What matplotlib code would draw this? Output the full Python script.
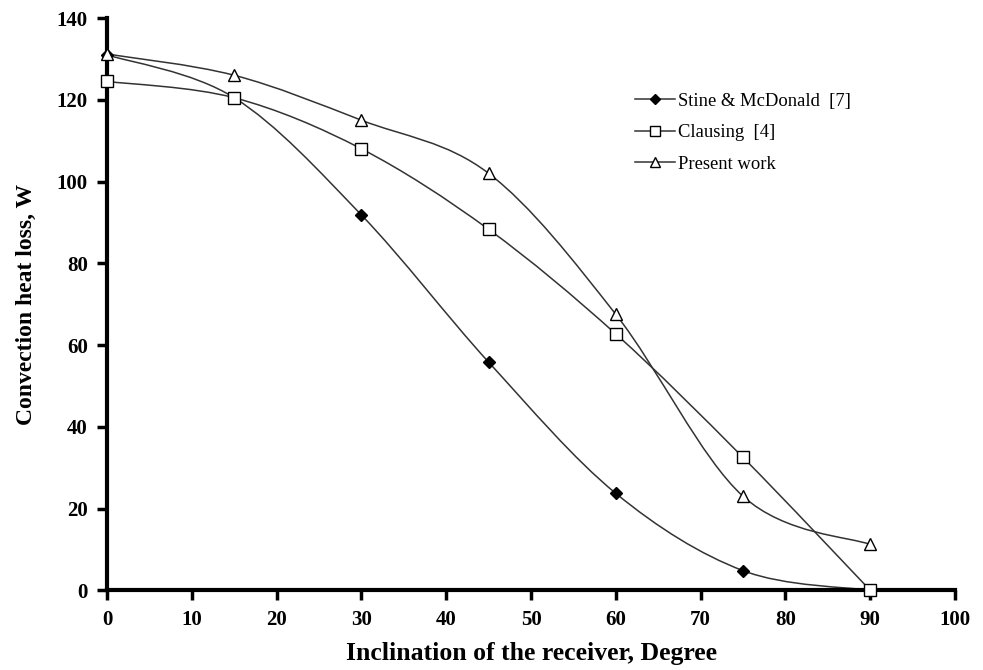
import numpy as np
import matplotlib.pyplot as plt
from matplotlib.path import Path
from matplotlib.patches import PathPatch

plt.rcParams['font.family'] = ['Liberation Serif', 'DejaVu Serif']

# Inclination angles (degrees)
angles = [0, 15, 30, 45, 60, 75, 90]

# Convection heat loss (W)
stine = [131.0, 120.5, 91.8, 55.8, 23.7, 4.8, 0.0]
clausing = [124.5, 120.5, 108.0, 88.3, 62.7, 32.5, 0.0]
present = [131.2, 126.0, 115.0, 102.0, 67.5, 23.0, 11.2]


def smoothPath(xs, ys):
    """Builds an Excel-style smoothed Bezier path through the points."""
    pts = np.column_stack([xs, ys]).astype(float)
    n = len(pts)
    verts = [pts[0]]
    codes = [Path.MOVETO]
    for i in range(n - 1):
        p0 = pts[i - 1] if i > 0 else pts[i]
        p1 = pts[i]
        p2 = pts[i + 1]
        p3 = pts[i + 2] if i + 2 < n else pts[i + 1]
        c1 = p1 + (p2 - p0) / 6.0
        c2 = p2 - (p3 - p1) / 6.0
        verts += [c1, c2, p2]
        codes += [Path.CURVE4] * 3
    return Path(verts, codes)


fig = plt.figure(figsize=(9.83, 6.70), dpi=100)
ax = fig.add_axes([0.109, 0.119, 0.8625, 0.854])

lineColor = '#333333'
series = [
    (stine, 'D', 'black', 'Stine & McDonald  [7]'),
    (clausing, 's', 'white', 'Clausing  [4]'),
    (present, '^', 'white', 'Present work'),
]

for ys, mk, fc, lab in series:
    ax.add_patch(PathPatch(smoothPath(angles, ys), facecolor='none',
                           edgecolor=lineColor, linewidth=1.1, zorder=2))
    size = 6 if mk == 'D' else 8
    ax.plot(angles, ys, linestyle='none', marker=mk, markersize=size,
            markerfacecolor=fc, markeredgecolor='black', markeredgewidth=1.0,
            zorder=3, clip_on=False)
    # legend proxy
    ax.plot([], [], color=lineColor, linewidth=1.1, marker=mk,
            markersize=size - 1, markerfacecolor=fc, markeredgecolor='black',
            label=lab)

ax.set_xlim(0, 100)
ax.set_ylim(0, 140)
ax.set_xticks(np.arange(0, 101, 10))
ax.set_yticks(np.arange(0, 141, 20))

for s in ['top', 'right']:
    ax.spines[s].set_visible(False)
for s in ['left', 'bottom']:
    ax.spines[s].set_linewidth(3)
ax.tick_params(direction='out', length=7, width=2.5, labelsize=15, pad=7)
for t in ax.get_xticklabels() + ax.get_yticklabels():
    t.set_fontweight('bold')

ax.set_xlabel('Inclination of the receiver, Degree', fontsize=18.5,
              fontweight='bold')
ax.xaxis.set_label_coords(0.5, -0.09)
ax.set_ylabel('Convection heat loss, W', fontsize=17, fontweight='bold')
ax.yaxis.set_label_coords(-0.083, 0.5)

ax.legend(loc='upper left', bbox_to_anchor=(0.603, 0.899), frameon=False,
          fontsize=13.4, handlelength=2.15, handletextpad=0.15,
          labelspacing=0.78)

fig.savefig('out.png', dpi=100)
